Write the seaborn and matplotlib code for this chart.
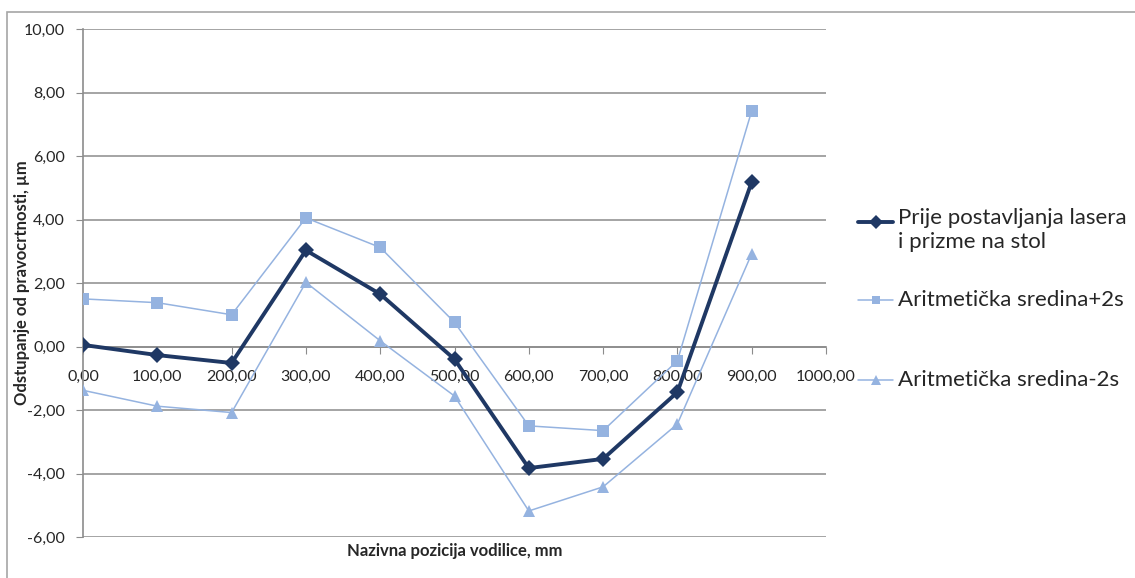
import pandas as pd
import seaborn as sns
import matplotlib.pyplot as plt
from matplotlib.ticker import FuncFormatter
from matplotlib.lines import Line2D
from matplotlib.patches import Rectangle

# === Data ===
positions = [0, 100, 200, 300, 400, 500, 600, 700, 800, 900]
before_setup = [0.05, -0.27, -0.52, 3.03, 1.65, -0.40, -3.83, -3.54, -1.44, 5.18]
mean_plus_2s = [1.50, 1.38, 1.00, 4.05, 3.12, 0.76, -2.50, -2.65, -0.45, 7.42]
mean_minus_2s = [-1.38, -1.88, -2.08, 2.02, 0.18, -1.56, -5.18, -4.42, -2.44, 2.92]

labels = ["Prije postavljanja lasera\ni prizme na stol",
          "Aritmetička sredina+2s",
          "Aritmetička sredina-2s"]

dark = "#1F3864"
light = "#95B3E0"
grid_col = "#8C8C8C"

sns.set_style("white")
plt.rcParams["font.family"] = ["Lato", "DejaVu Sans"]

W, H = 1135, 578
fig = plt.figure(figsize=(W / 100, H / 100), dpi=100)
ax = fig.add_axes([83 / W, 41 / H, 743 / W, 508 / H])

# === Lines ===
sns.lineplot(x=positions, y=mean_plus_2s, ax=ax, color=light, lw=1.1,
             marker="s", markersize=8, markeredgewidth=0, zorder=3)
sns.lineplot(x=positions, y=mean_minus_2s, ax=ax, color=light, lw=1.1,
             marker="^", markersize=9, markeredgewidth=0, zorder=3)
sns.lineplot(x=positions, y=before_setup, ax=ax, color=dark, lw=2.8,
             marker="D", markersize=8, markeredgewidth=0, zorder=4)

# === Axes ===
ax.set_xlim(0, 1000)
ax.set_ylim(-6, 10)
ax.set_xticks(range(0, 1001, 100))
ax.set_yticks(range(-6, 11, 2))
fmt = FuncFormatter(lambda v, p: f"{v:.2f}".replace(".", ","))
ax.xaxis.set_major_formatter(fmt)
ax.yaxis.set_major_formatter(fmt)

ax.spines["top"].set_visible(False)
ax.spines["right"].set_visible(False)
ax.spines["bottom"].set_position(("data", 0))
for s in ("bottom", "left"):
    ax.spines[s].set_color(grid_col)
    ax.spines[s].set_linewidth(1.2)

ax.yaxis.grid(True, color=grid_col, lw=1.1)
ax.xaxis.grid(False)
ax.set_axisbelow(True)

ax.tick_params(axis="x", direction="out", length=5, color=grid_col,
               labelsize=11.5, pad=12, bottom=True)
ax.tick_params(axis="y", direction="out", length=5, color=grid_col,
               labelsize=11.5, pad=8, left=True)

fig.text(22 / W, 1 - 283 / H, "Odstupanje od pravocrtnosti, µm", rotation=90,
         fontsize=12, fontweight="bold", ha="center", va="center")
fig.text(455 / W, 1 - 551 / H, "Nazivna pozicija vodilice, mm",
         fontsize=12, fontweight="bold", ha="center", va="center")

# === Legend (placed by hand to follow the reference spacing) ===
legend_items = [
    (labels[0], dark, 2.8, "D", 7, 222),
    (labels[1], light, 1.1, "s", 6, 300),
    (labels[2], light, 1.1, "^", 7, 380),
]
for text, col, lw, mk, ms, ypx in legend_items:
    yf = 1 - ypx / H
    fig.add_artist(Line2D([858 / W, 875.5 / W, 893 / W], [yf, yf, yf], transform=fig.transFigure,
                          color=col, lw=lw, marker=mk, markersize=ms,
                          markeredgewidth=0, markevery=[1]))
    if "\n" in text:
        fig.text(898 / W, yf + 14 / H, text, fontsize=16, ha="left", va="top", linespacing=1.25)
    else:
        fig.text(898 / W, yf, text, fontsize=16, ha="left", va="center")

# outer chart border
fig.patches.append(Rectangle((7 / W, -0.1), 2, 1.1 - 12 / H,
                             transform=fig.transFigure, fill=False,
                             edgecolor="#A6A6A6", lw=1.2))

fig.savefig("out.png", dpi=100)
